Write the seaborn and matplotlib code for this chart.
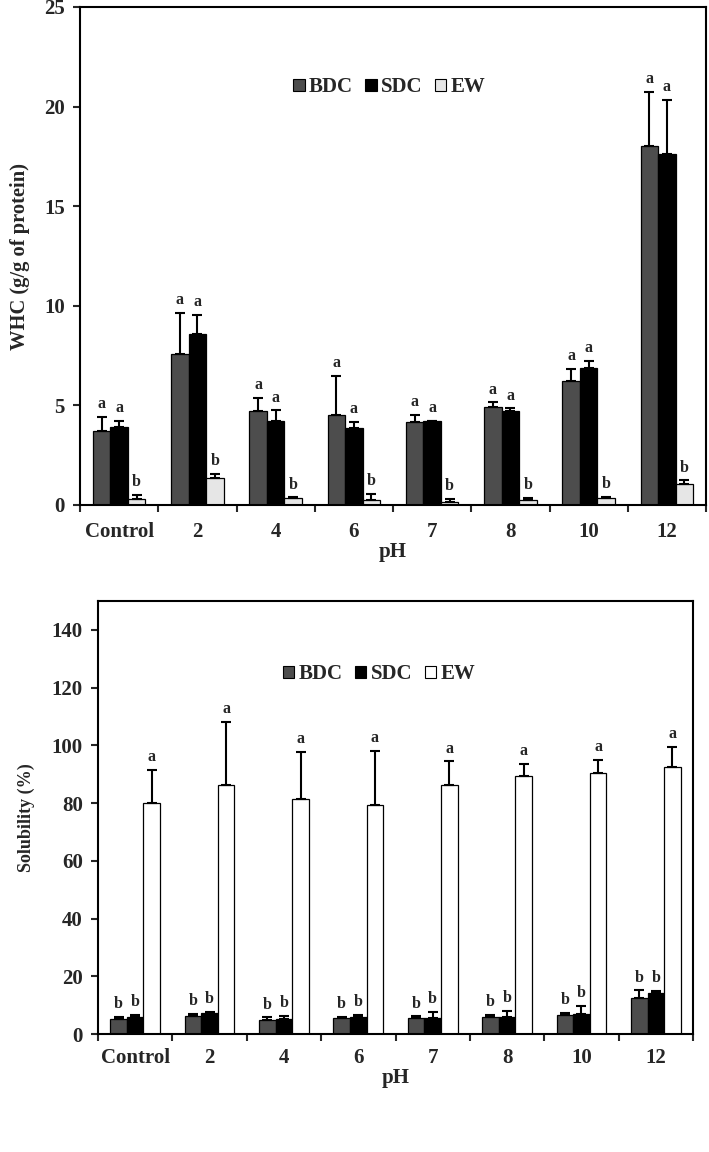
import numpy as np
import pandas as pd
import matplotlib
matplotlib.use("Agg")
import matplotlib.pyplot as plt
import seaborn as sns
from matplotlib.patches import Patch
from matplotlib.ticker import FixedLocator

sns.set_theme(style="ticks")
plt.rcParams['font.family'] = ['Liberation Serif', 'DejaVu Serif']
plt.rcParams['font.weight'] = 'bold'

categories = ["Control", "2", "4", "6", "7", "8", "10", "12"]
series = ["BDC", "SDC", "EW"]

# WHC (g/g of protein)
whc_bdc = [3.7, 7.6, 4.7, 4.5, 4.15, 4.9, 6.2, 18.0]
whc_sdc = [3.9, 8.6, 4.2, 3.85, 4.2, 4.7, 6.9, 17.6]
whc_ew = [0.3, 1.35, 0.35, 0.25, 0.17, 0.25, 0.35, 1.05]
whc_bdc_err = [0.7, 2.05, 0.67, 2.0, 0.35, 0.25, 0.65, 2.75]
whc_sdc_err = [0.3, 0.95, 0.55, 0.3, 0.03, 0.15, 0.35, 2.75]
whc_ew_err = [0.2, 0.2, 0.03, 0.3, 0.15, 0.12, 0.06, 0.18]
whc_letters = [["a"] * 8, ["a"] * 8, ["b"] * 8]

# Solubility (%)
sol_bdc = [5.2, 6.35, 4.85, 5.4, 5.4, 5.8, 6.5, 12.6]
sol_sdc = [6.0, 7.2, 5.2, 6.0, 5.7, 6.0, 6.9, 14.1]
sol_ew = [80.1, 86.2, 81.3, 79.3, 86.2, 89.4, 90.5, 92.5]
sol_bdc_err = [0.6, 0.6, 0.9, 0.5, 0.7, 0.7, 0.7, 2.5]
sol_sdc_err = [0.6, 0.3, 1.0, 0.6, 1.8, 2.1, 2.9, 0.8]
sol_ew_err = [11.3, 21.8, 16.5, 18.9, 8.2, 4.3, 4.4, 6.9]
sol_letters = [["b"] * 8, ["b"] * 8, ["a"] * 8]


def long_df(vals):
    rows = []
    for s, v in zip(series, vals):
        for c, y in zip(categories, v):
            rows.append({"pH": c, "series": s, "value": y})
    return pd.DataFrame(rows)


fig = plt.figure(figsize=(7.09, 11.52), dpi=100)
W, H = 709, 1152
ax1 = fig.add_axes([80 / W, (H - 505) / H, (706 - 80) / W, (505 - 7) / H])
ax2 = fig.add_axes([98 / W, (H - 1034) / H, (693 - 98) / W, (1034 - 601) / H])


def draw(ax, vals, errs, letters, colors, ylim, yticks, ylabel, ylabel_size,
         legend_pos, ylabelpad, xpad):
    df = long_df(vals)
    sns.barplot(data=df, x="pH", y="value", hue="series", order=categories,
                hue_order=series, palette=colors, errorbar=None, width=0.67,
                edgecolor="black", linewidth=0.9, saturation=1, ax=ax, legend=False)
    conts = list(ax.containers)
    for i, cont in enumerate(conts):
        for j, bar in enumerate(cont.patches):
            xc = bar.get_x() + bar.get_width() / 2
            h = bar.get_height()
            e = errs[i][j]
            ax.errorbar([xc], [h], yerr=[[0], [e]], fmt="none", ecolor="black",
                        elinewidth=1.5, capsize=3.5, capthick=1.5, zorder=3)
            ax.annotate(letters[i][j], (xc, h + e), xytext=(0, 3.5),
                        textcoords="offset points", ha="center", va="bottom",
                        fontsize=11.5, fontweight="bold")
    ax.set_ylim(*ylim)
    ax.set_yticks(yticks)
    ax.set_xlim(-0.5, len(categories) - 0.5)
    ax.xaxis.set_minor_locator(FixedLocator(np.arange(-0.5, len(categories), 1.0)))
    ax.tick_params(axis="x", which="major", length=0, labelsize=15, pad=xpad)
    ax.tick_params(axis="x", which="minor", length=5, width=1.5, direction="out")
    ax.tick_params(axis="y", length=5, width=1.5, direction="out", labelsize=15, pad=6)
    for lab in ax.get_xticklabels() + ax.get_yticklabels():
        lab.set_fontweight("bold")
    for sp in ax.spines.values():
        sp.set_visible(True)
        sp.set_linewidth(1.5)
        sp.set_color("black")
    ax.set_xlabel("pH", fontsize=15, fontweight="bold", labelpad=0)
    ax.set_ylabel(ylabel, fontsize=ylabel_size, fontweight="bold", labelpad=ylabelpad)
    handles = [Patch(facecolor=c, edgecolor="black", linewidth=0.8) for c in colors]
    ax.legend(handles, series, loc="center", bbox_to_anchor=legend_pos, ncol=3,
              frameon=False, handlelength=0.55, handleheight=0.55,
              handletextpad=0.2, columnspacing=0.6,
              prop={"weight": "bold", "size": 15})


draw(ax1, [whc_bdc, whc_sdc, whc_ew], [whc_bdc_err, whc_sdc_err, whc_ew_err],
     whc_letters, ["#4d4d4d", "#000000", "#e6e6e6"], (0, 25), [0, 5, 10, 15, 20, 25],
     "WHC (g/g of protein)", 14.75, (0.494, 0.839), 10, 12)
draw(ax2, [sol_bdc, sol_sdc, sol_ew], [sol_bdc_err, sol_sdc_err, sol_ew_err],
     sol_letters, ["#4d4d4d", "#000000", "#ffffff"], (0, 150),
     [0, 20, 40, 60, 80, 100, 120, 140], "Solubility (%)", 13, (0.472, 0.831), 12, 10)

fig.savefig("out.png", dpi=100)
